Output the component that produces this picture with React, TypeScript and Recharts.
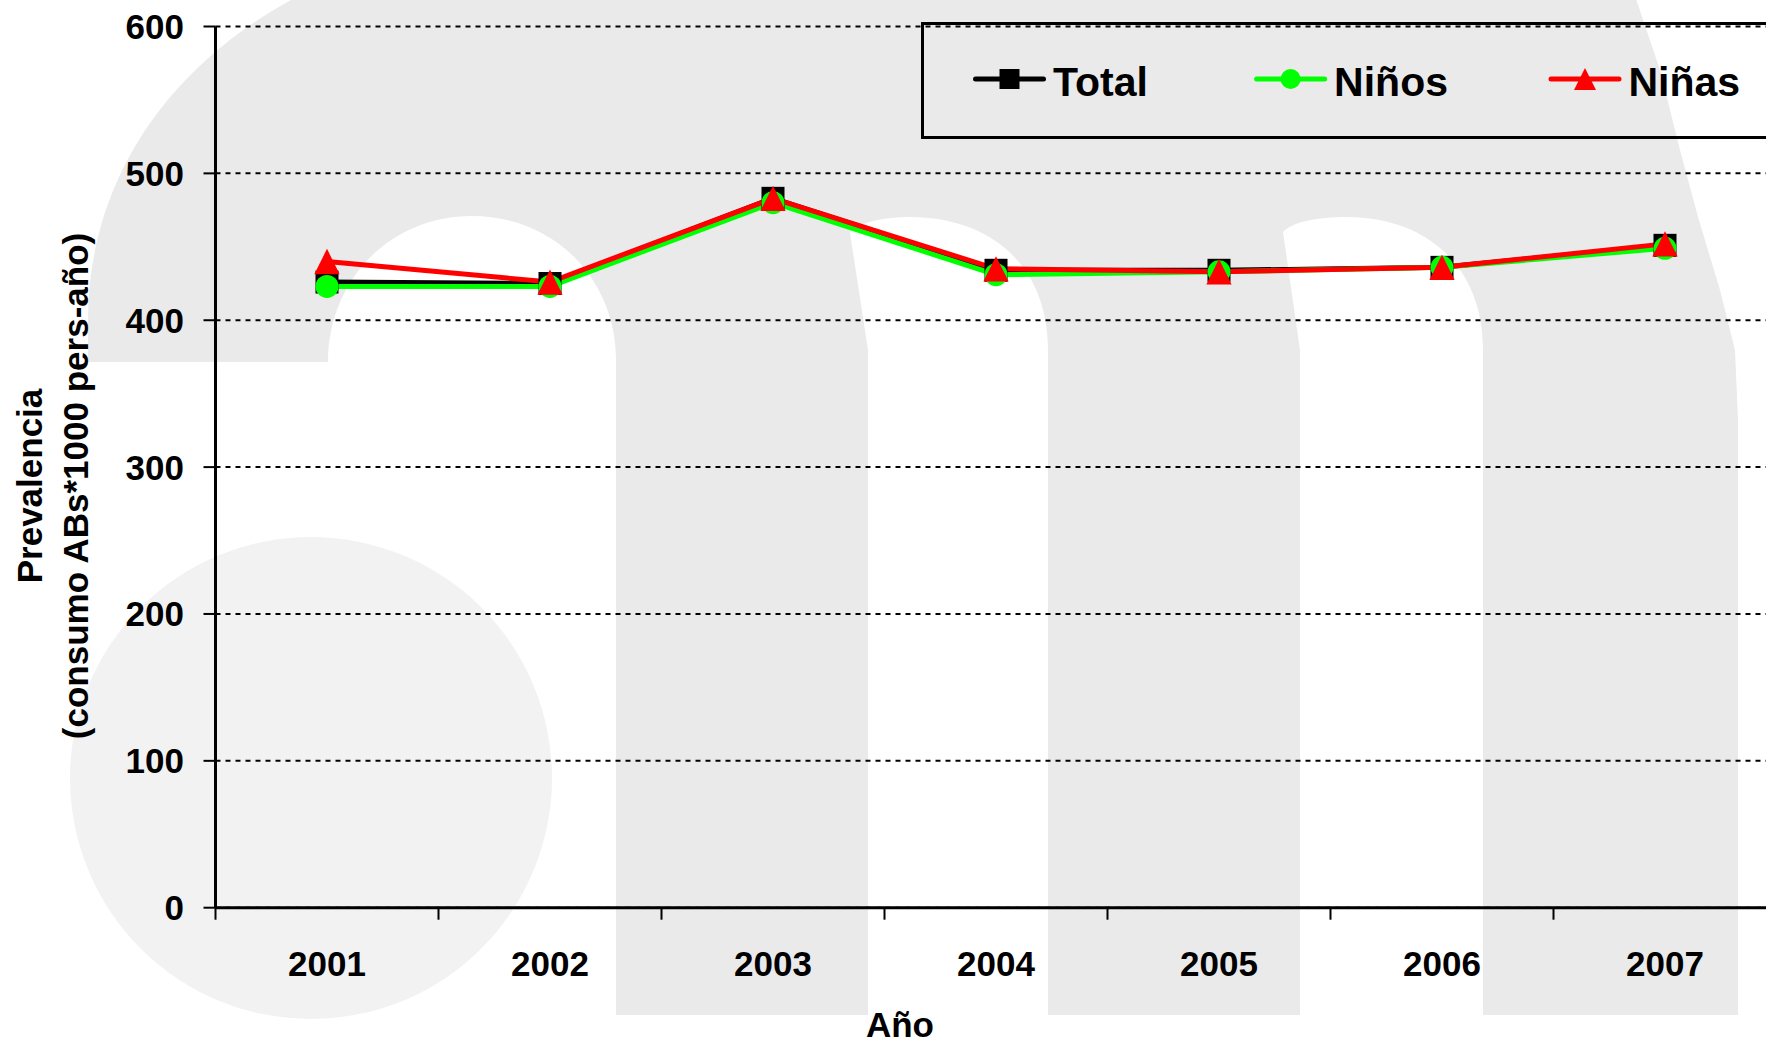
import React from "react";
import { LineChart, Line, XAxis, YAxis, CartesianGrid, Legend } from "recharts";

const years = [2001, 2002, 2003, 2004, 2005, 2006, 2007];
const total = [426, 425, 483, 434, 434, 436, 451];
const ninos = [423, 423, 480, 431, 433, 436, 449];
const ninas = [440, 426, 483, 435, 433, 436, 452];
const yTicks = [0, 100, 200, 300, 400, 500, 600];

const series = [
  { key: "Total", color: "#000000", shape: "square" },
  { key: "Niños", color: "#00ff00", shape: "circle" },
  { key: "Niñas", color: "#ff0000", shape: "triangle" },
];

const data = years.map((year, i) => ({ year, Total: total[i], "Niños": ninos[i], "Niñas": ninas[i] }));

const FONT = '"Liberation Sans", Arial, Helvetica, sans-serif';
const W = 1766;
const H = 1041;
const CHART_W = 1800;
const LEFT = 215.5;
const RIGHT = 23.5;
const BAND = (CHART_W - LEFT - RIGHT) / years.length;

// marker drawn at (cx, cy)
const marker = (shape: string, color: string, cx: number, cy: number, s: number, key?: any) => {
  if (shape === "square") {
    return <rect key={key} x={cx - s / 2} y={cy - s / 2} width={s} height={s} fill={color} />;
  }
  if (shape === "circle") {
    return <circle key={key} cx={cx} cy={cy} r={s / 2} fill={color} />;
  }
  const h = s * 1.1;
  return (
    <path
      key={key}
      d={`M${cx},${cy - h / 2} L${cx + h / 2},${cy + h / 2} L${cx - h / 2},${cy + h / 2} Z`}
      fill={color}
    />
  );
};

const XTick = (props: any) => {
  const { x, y, payload } = props;
  return (
    <g>
      <line x1={x - BAND / 2} x2={x - BAND / 2} y1={y} y2={y + 12} stroke="#000" strokeWidth={2} />
      <text x={x} y={y + 68} textAnchor="middle" fontFamily={FONT} fontWeight="bold" fontSize={35} fill="#000">
        {payload.value}
      </text>
    </g>
  );
};

const legendX = [54.5, 335.6, 630];

const renderLegend = () => (
  <svg width={900} height={117} style={{ display: "block" }}>
    <rect x={1.5} y={1.5} width={1000} height={114} fill="none" stroke="#000" strokeWidth={3} />
    {series.map((s, i) => (
      <g key={s.key}>
        <line x1={legendX[i]} x2={legendX[i] + 68} y1={57} y2={57} stroke={s.color} strokeWidth={5} strokeLinecap="round" />
        {marker(s.shape, s.color, legendX[i] + 34, 57, 20)}
        <text x={legendX[i] + 77.5} y={73.5} fontFamily={FONT} fontWeight="bold" fontSize={41} fill="#000">
          {s.key}
        </text>
      </g>
    ))}
  </svg>
);

const Watermark = () => (
  <svg width={W} height={H} style={{ position: "absolute", left: 0, top: 0 }}>
    <path
      fill="#eaeaea"
      d="M88 362 L88 320 C88 200 150 70 310 -10 L1633 -10 L1660 70 L1680 150 L1698 217 L1720 290 L1735 350 L1738 420 L1738 1015 L1483 1015 L1483 350 C1483 265 1425 217 1347 217 C1318 217 1292 222 1283 232 L1300 350 L1300 1015 L1048 1015 L1048 350 C1048 265 990 217 910 217 C885 217 858 222 850 233 L868 350 L868 1015 L616 1015 L616 360 C616 280 555 216 472 216 C390 216 328 280 328 362 Z"
    />
    <circle cx={311} cy={778} r={241} fill="#f2f2f2" />
  </svg>
);

const App = () => {
  return (
    <div style={{ position: "fixed", left: 0, top: 0, width: W, height: H, overflow: "hidden", background: "#fff" }}>
      <Watermark />
      <div style={{ position: "absolute", left: 0, top: 0 }}>
        <LineChart width={CHART_W} height={H} data={data} margin={{ top: 26.5, right: RIGHT, left: 0, bottom: 0 }}>
          <CartesianGrid vertical={false} stroke="#000" strokeWidth={2} strokeDasharray="5 5" />
          <XAxis
            type="number"
            dataKey="year"
            domain={[2000.5, 2007.5]}
            ticks={years}
            interval={0}
            height={133.3}
            tickLine={false}
            tickSize={0}
            tickMargin={0}
            axisLine={{ stroke: "#000", strokeWidth: 3 }}
            tick={<XTick />}
            label={{
              content: () => (
                <text x={900} y={1037} textAnchor="middle" fontFamily={FONT} fontWeight="bold" fontSize={35} fill="#000">
                  Año
                </text>
              ),
            }}
          />
          <YAxis
            domain={[0, 600]}
            ticks={yTicks}
            interval={0}
            width={LEFT}
            tickSize={12}
            tickMargin={19.5}
            axisLine={{ stroke: "#000", strokeWidth: 3 }}
            tickLine={{ stroke: "#000", strokeWidth: 2 }}
            tick={{ fill: "#000", fontFamily: FONT, fontWeight: "bold", fontSize: 35 }}
            label={{
              content: () => (
                <text transform="rotate(-90)" textAnchor="middle" fontFamily={FONT} fontWeight="bold" fontSize={35} fill="#000">
                  <tspan x={-486} y={41.7}>Prevalencia</tspan>
                  <tspan x={-486} y={87.5}>(consumo ABs*1000 pers-año)</tspan>
                </text>
              ),
            }}
          />
          <Legend
            layout="vertical"
            align="center"
            verticalAlign="middle"
            content={renderLegend}
            wrapperStyle={{ left: 921, top: 21.5, width: 900, height: 117 }}
          />
          {series.map((s) => (
            <Line
              key={s.key}
              type="linear"
              dataKey={s.key}
              stroke={s.color}
              strokeWidth={5}
              isAnimationActive={false}
              activeDot={false}
              dot={(p: any) => marker(s.shape, s.color, p.cx, p.cy, 23, `${s.key}-${p.index}`)}
            />
          ))}
        </LineChart>
      </div>
    </div>
  );
};

export default App;
